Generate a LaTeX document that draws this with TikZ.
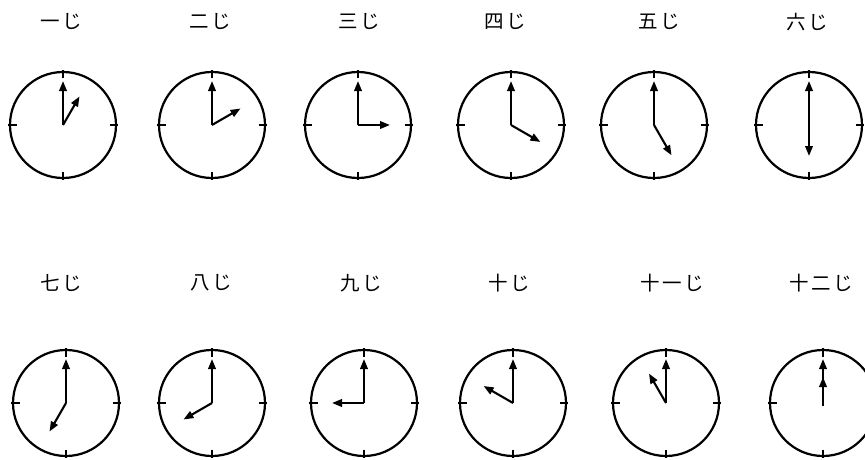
\documentclass[tikz,border=0pt]{standalone}
\usepackage{fontspec}
\newfontfamily\jp[LetterSpace=12]{Noto Sans CJK JP}
\usetikzlibrary{arrows.meta}
\begin{document}
\begin{tikzpicture}[x=1pt,y=-1pt,
  face/.style={circle,draw,line width=2.2pt,minimum size=106pt,inner sep=0pt},
  hand/.style={line width=2.1pt,-{Triangle[length=10pt,width=7.5pt]}},
  clocktick/.style={line width=1.4pt},
  lbl/.style={font=\jp\fontsize{19.5}{20}\selectfont,inner sep=0pt}]
\path[use as bounding box,fill=white] (0,0) rectangle (865,460);
% labels
\node[lbl] (l1) at (61,22) {一じ};
\node[lbl] (l2) at (210,22) {二じ};
\node[lbl] (l3) at (359,22) {三じ};
\node[lbl] (l4) at (505,22) {四じ};
\node[lbl] (l5) at (659,22) {五じ};
\node[lbl] (l6) at (807,22) {六じ};
\node[lbl] (l7) at (61,283) {七じ};
\node[lbl] (l8) at (211,283) {八じ};
\node[lbl] (l9) at (361,283) {九じ};
\node[lbl] (l10) at (509,283) {十じ};
\node[lbl] (l11) at (672,283) {十一じ};
\node[lbl] (l12) at (821,283) {十二じ};
% clocks
\foreach \n/\x/\y/\h/\len in {1/63/125/1/33, 2/212/125/2/33, 3/358/125/3/32,
  4/511/125/4/34, 5/654/125/5/35, 6/809/125/6/31,
  7/66/403/7/33, 8/212/403/8/33, 9/364/403/9/32,
  10/513/403/10/34, 11/666/403/11/34, 12/823/403/12/26} {
  \node[face] (c\n) at (\x,\y) {};
  \foreach \a in {0,90,180,270}
    \draw[clocktick] (c\n.center) ++(\a:46.5) -- ++(\a:8.5);
  \draw[hand] (c\n.center) -- ++(-90:44);
  \draw[hand] (c\n.center) -- ++({-90+30*\h}:\len);
}
\draw[line width=2.1pt] (c12.center) -- ++(90:3);
\end{tikzpicture}
\end{document}
